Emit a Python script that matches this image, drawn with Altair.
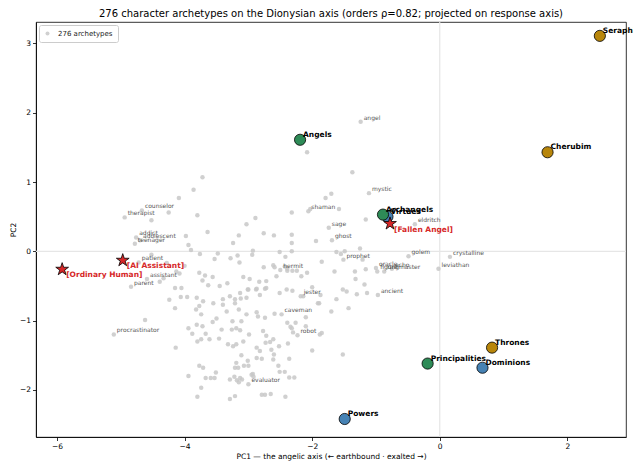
import altair as alt
import pandas as pd

# ---------------- data ----------------
bg_x = [-1.24,-2.08,-1.37,-1.11,-1.70,-1.79,-3.72,-3.86,-4.09,-4.67,-4.94,-4.25,-4.52,-3.80,-2.32,-2.89,-3.03,-3.64,-2.76,-2.60,
        -3.15,-3.98,-2.32,-3.24,-3.94,-3.90,-2.32,-2.93,-2.94,-3.76,-3.48,-3.17,-3.28,-3.14,-3.53,-2.51,-2.32,-2.42,-4.00,-4.08,
        -3.77,-3.68,-3.56,-3.72,-3.63,-3.45,-3.33,-3.08,-2.98,-2.83,-2.72,-2.76,-2.61,-2.59,-2.50,-2.56,-2.39,-2.72,-2.87,-2.40,
        -2.31,-2.51,-3.01,-3.13,-4.15,-4.05,-4.06,-3.96,-4.24,-3.81,-3.71,-3.40,-3.29,-3.21,-3.12,-3.03,-2.82,-4.76,-4.70,-4.78,
        -4.72,-4.52,-4.59,-4.33,-4.13,-4.28,-4.84,-4.39,-5.11,-4.62,-4.14,-4.15,-3.94,-3.88,-3.81,-3.80,-3.74,-3.67,-3.72,-3.82,
        -3.77,-3.74,-3.55,-3.40,-3.21,-3.34,-3.50,-3.56,-3.61,-3.46,-3.42,-3.26,-3.19,-3.13,-3.25,-3.11,-3.03,-3.15,-2.87,-2.85,
        -2.74,-2.59,-2.48,-2.39,-2.32,-2.30,-2.23,-2.34,-2.26,-2.10,-1.88,-1.85,-3.32,-3.24,-3.19,-3.08,-2.99,-2.87,-2.82,-2.77,
        -2.72,-2.73,-2.66,-2.61,-2.64,-2.52,-2.60,-2.61,-2.87,-2.79,-3.01,-3.11,-3.19,-3.21,-3.16,-3.07,-3.00,-2.36,-2.00,-2.53,
        -2.43,-2.51,-3.77,-3.71,-3.94,-3.67,-3.59,-3.53,-3.51,-3.29,-3.22,-3.18,-3.13,-3.10,-3.15,-3.00,-2.95,-2.93,-2.92,-3.74,
        -3.80,-3.29,-3.21,-2.79,-2.74,-2.65,-2.42,-2.36,-2.28,-3.00,-2.88,-2.74,-2.14,-1.91,-1.94,-1.69,-1.62,-1.55,-1.49,-1.25,
        -1.51,-1.21,-1.85,-0.49,-2.43,-2.39,-2.31,-2.24,-2.08,-2.17,-1.65,-1.33,-1.16,-1.32,-1.00,-0.75,-0.98,-0.87,-0.02,-1.18,
        -1.52,-1.46,-1.30,-1.14,-0.97,-2.18,-2.00,-1.87,-1.62,-1.89,-1.43,-1.70,-2.10,-2.38,-1.52,-2.06,-2.03,-1.58,-1.16,-1.74,
        -0.39,0.16]
bg_y = [1.87,1.43,1.14,0.84,0.83,0.77,1.07,0.89,0.77,0.59,0.49,0.56,0.45,0.52,0.56,0.48,0.39,0.28,0.26,0.23,
        0.23,0.22,0.24,0.12,0.09,0.02,0.12,0.01,-0.05,-0.04,-0.03,-0.06,-0.10,-0.16,-0.11,-0.01,0.00,-0.08,-0.21,-0.32,
        -0.31,-0.35,-0.37,-0.42,-0.49,-0.50,-0.46,-0.37,-0.40,-0.44,-0.43,-0.23,-0.20,-0.23,-0.27,-0.36,-0.25,-0.53,-0.54,-0.55,
        -0.57,-0.60,-0.55,-0.60,-0.53,-0.53,-0.66,-0.66,-0.70,-0.67,-0.72,-0.69,-0.65,-0.69,-0.68,-0.67,-0.63,0.20,0.16,0.11,
        -0.16,-0.05,-0.40,-0.39,-0.29,-0.17,-0.51,-0.44,-1.20,-0.99,-1.39,-0.82,-1.11,-1.19,-1.06,-1.30,-1.27,-1.19,-1.08,-0.84,
        -0.79,-0.91,-0.75,-0.77,-0.75,-0.87,-0.97,-1.02,-1.27,-1.26,-1.13,-1.13,-1.11,-1.14,-1.01,-1.01,-0.91,-0.84,-0.88,-0.94,
        -0.96,-0.90,-0.91,-1.03,-1.11,-1.17,-1.21,-1.09,-1.03,-1.08,-1.20,-1.18,-1.34,-1.37,-1.34,-1.30,-1.20,-1.39,-1.44,-1.15,
        -1.22,-1.32,-1.31,-1.27,-1.42,-1.37,-1.49,-1.56,-1.54,-1.55,-1.58,-1.50,-1.61,-1.68,-1.68,-1.65,-1.65,-1.55,-1.43,-1.65,
        -1.74,-1.74,-1.65,-1.68,-1.80,-1.83,-1.83,-1.83,-1.75,-1.85,-1.81,-1.86,-1.83,-1.85,-1.89,-1.92,-1.78,-1.77,-1.81,-1.97,
        -2.10,-2.13,-2.09,-2.07,-2.07,-2.06,-2.10,-1.82,-1.82,-0.55,-0.55,-0.54,-0.65,-0.75,0.15,0.16,-0.01,-0.04,0.00,0.04,
        -0.12,-0.12,-0.15,-0.07,-0.22,-0.28,-0.28,-0.28,-0.31,-0.36,-0.29,-0.29,-0.26,-0.40,-0.24,-0.25,-0.29,-0.29,-0.25,-0.48,
        -0.55,-0.58,-0.62,-0.60,-0.63,-0.65,-0.52,-0.63,-0.69,-0.75,-0.82,-0.87,-0.95,-1.33,-1.49,0.58,0.61,0.61,0.46,0.34,
        0.39,-0.08]

lbl_names = ["angel","mystic","counselor","therapist","addict","adolescent","teenager","patient","assistant","parent",
             "procrastinator","shaman","sage","ghost","prophet","golem","crystalline","leviathan","eldritch","oracle",
             "echo","figure","ringmaster","hermit","jester","ancient","caveman","robot","evaluator"]
lbl_x = [-1.24,-1.11,-4.67,-4.94,-4.76,-4.70,-4.78,-4.72,-4.59,-4.84,
         -5.11,-2.06,-1.74,-1.69,-1.51,-0.49,0.16,-0.02,-0.39,-1.00,
         -0.75,-0.98,-0.87,-2.50,-2.18,-0.97,-2.48,-2.23,-3.00]
lbl_y = [1.87,0.84,0.59,0.49,0.20,0.16,0.11,-0.16,-0.40,-0.51,
         -1.20,0.58,0.34,0.16,-0.12,-0.07,-0.08,-0.25,0.39,-0.24,
         -0.25,-0.29,-0.29,-0.27,-0.65,-0.63,-0.91,-1.21,-1.92]

order_names = ["Virtues","Seraphim","Cherubim","Angels","Archangels","Principalities","Thrones","Dominions","Powers"]
order_x = [-0.82,2.51,1.69,-2.19,-0.89,-0.19,0.82,0.67,-1.49]
order_y = [0.50,3.11,1.43,1.61,0.53,-1.62,-1.39,-1.68,-2.42]
order_tier = ["second","first","first","third","third","third","first","second","second"]
tier_names = ["first","second","third"]
tier_colors = ["#b8860b","#4682b4","#2e8b57"]

star_names = ["[Fallen Angel]","[AI Assistant]","[Ordinary Human]"]
star_x = [-0.78,-4.97,-5.92]
star_y = [0.40,-0.13,-0.26]

legend_label = "276 archetypes"
title_text = "276 character archetypes on the Dionysian axis  (orders \u03c1=0.82; projected on response axis)"
x_title = "PC1  \u2014 the angelic axis  (\u2190 earthbound \u00b7 exalted \u2192)"
y_title = "PC2"
x_ticks = [-6, -4, -2, 0, 2]
y_ticks = [-2, -1, 0, 1, 2, 3]
x_dom = [-6.33, 2.92]
y_dom = [-2.68, 3.31]

# ---------------- tables ----------------
bg = pd.DataFrame({"x": bg_x, "y": bg_y, "s": legend_label})
lbl = pd.DataFrame({"x": lbl_x, "y": lbl_y, "name": lbl_names})
orders = pd.DataFrame({"x": order_x, "y": order_y, "name": order_names, "tier": order_tier,
                       "o": list(range(len(order_names)))})
stars = pd.DataFrame({"x": star_x, "y": star_y, "name": star_names})
zero = pd.DataFrame({"x": [0], "y": [0]})

FONT = "DejaVu Sans"
STAR = ("M0,-1 L0.2245,-0.309 L0.951,-0.309 L0.363,0.118 L0.588,0.809 L0,0.382 "
        "L-0.588,0.809 L-0.363,0.118 L-0.951,-0.309 L-0.2245,-0.309 Z")

xs = alt.Scale(domain=x_dom, nice=False, zero=False)
ys = alt.Scale(domain=y_dom, nice=False, zero=False)
X = alt.X("x:Q", scale=xs, axis=alt.Axis(values=x_ticks, format="d", title=x_title, grid=False, orient="bottom"))
Y = alt.Y("y:Q", scale=ys, axis=alt.Axis(values=y_ticks, format="d", title=y_title, grid=False, orient="left"))

vline = alt.Chart(zero).mark_rule(color="#e6e6e6", strokeWidth=1.2).encode(x=X)
hline = alt.Chart(zero).mark_rule(color="#e6e6e6", strokeWidth=1.2).encode(y=Y)

pts = alt.Chart(bg).mark_circle(size=20, opacity=0.85).encode(
    x=X, y=Y,
    color=alt.Color("s:N", scale=alt.Scale(domain=[legend_label], range=["#c8c8c8"]),
                    legend=alt.Legend(title=None, orient="top-left", offset=3,
                                      strokeColor="#cccccc", fillColor="white", padding=5,
                                      cornerRadius=2, labelFontSize=7, labelFont=FONT,
                                      symbolSize=16, symbolStrokeWidth=0, labelColor="#222",
                                      labelOffset=7))
)

lbl_text = alt.Chart(lbl).mark_text(align="left", baseline="middle", dx=3, dy=-4,
                                    fontSize=6, font=FONT, color="#555555").encode(
    x=X, y=Y, text="name:N")

circ = alt.Chart(orders).mark_circle(size=125, opacity=1, stroke="black", strokeWidth=0.8).encode(
    x=X, y=Y,
    fill=alt.Fill("tier:N", scale=alt.Scale(domain=tier_names, range=tier_colors), legend=None),
    order=alt.Order("o:Q"))

circ_text = alt.Chart(orders).mark_text(align="left", baseline="middle", dx=3, dy=-5,
                                        fontSize=7.5, font=FONT, fontWeight="bold", color="black").encode(
    x=X, y=Y, text="name:N", order=alt.Order("o:Q"))

star = alt.Chart(stars).mark_point(shape=STAR, size=180, filled=True, fill="#d62728",
                                   stroke="black", strokeWidth=0.8, opacity=1).encode(
    x=X, y=Y)

star_text = alt.Chart(stars).mark_text(align="left", baseline="middle", dx=4, dy=6,
                                       fontSize=7.5, font=FONT, fontWeight="bold", color="#d62728").encode(
    x=X, y=Y, text="name:N")

chart = alt.layer(vline, hline, pts, lbl_text, circ, circ_text, star, star_text).resolve_scale(
    color="independent", fill="independent"
).properties(
    width=590, height=415,
    autosize=alt.AutoSizeParams(type="none"),
    padding={"left": 28, "top": 14, "right": 7, "bottom": 26},
    title=alt.TitleParams(title_text, fontSize=10, font=FONT, fontWeight="normal", offset=2, color="black"),
).configure_view(stroke="black", strokeWidth=0.8).configure_axis(
    labelFont=FONT, titleFont=FONT, labelFontSize=7.5, titleFontSize=7.5, titleFontWeight="normal",
    labelColor="black", titleColor="black", domainColor="black", tickColor="black", tickSize=3.5,
    domainWidth=0.8, tickWidth=0.8, labelPadding=2, titlePadding=2
)

chart.save("out.html", embed_options={"renderer": "svg", "actions": False})
